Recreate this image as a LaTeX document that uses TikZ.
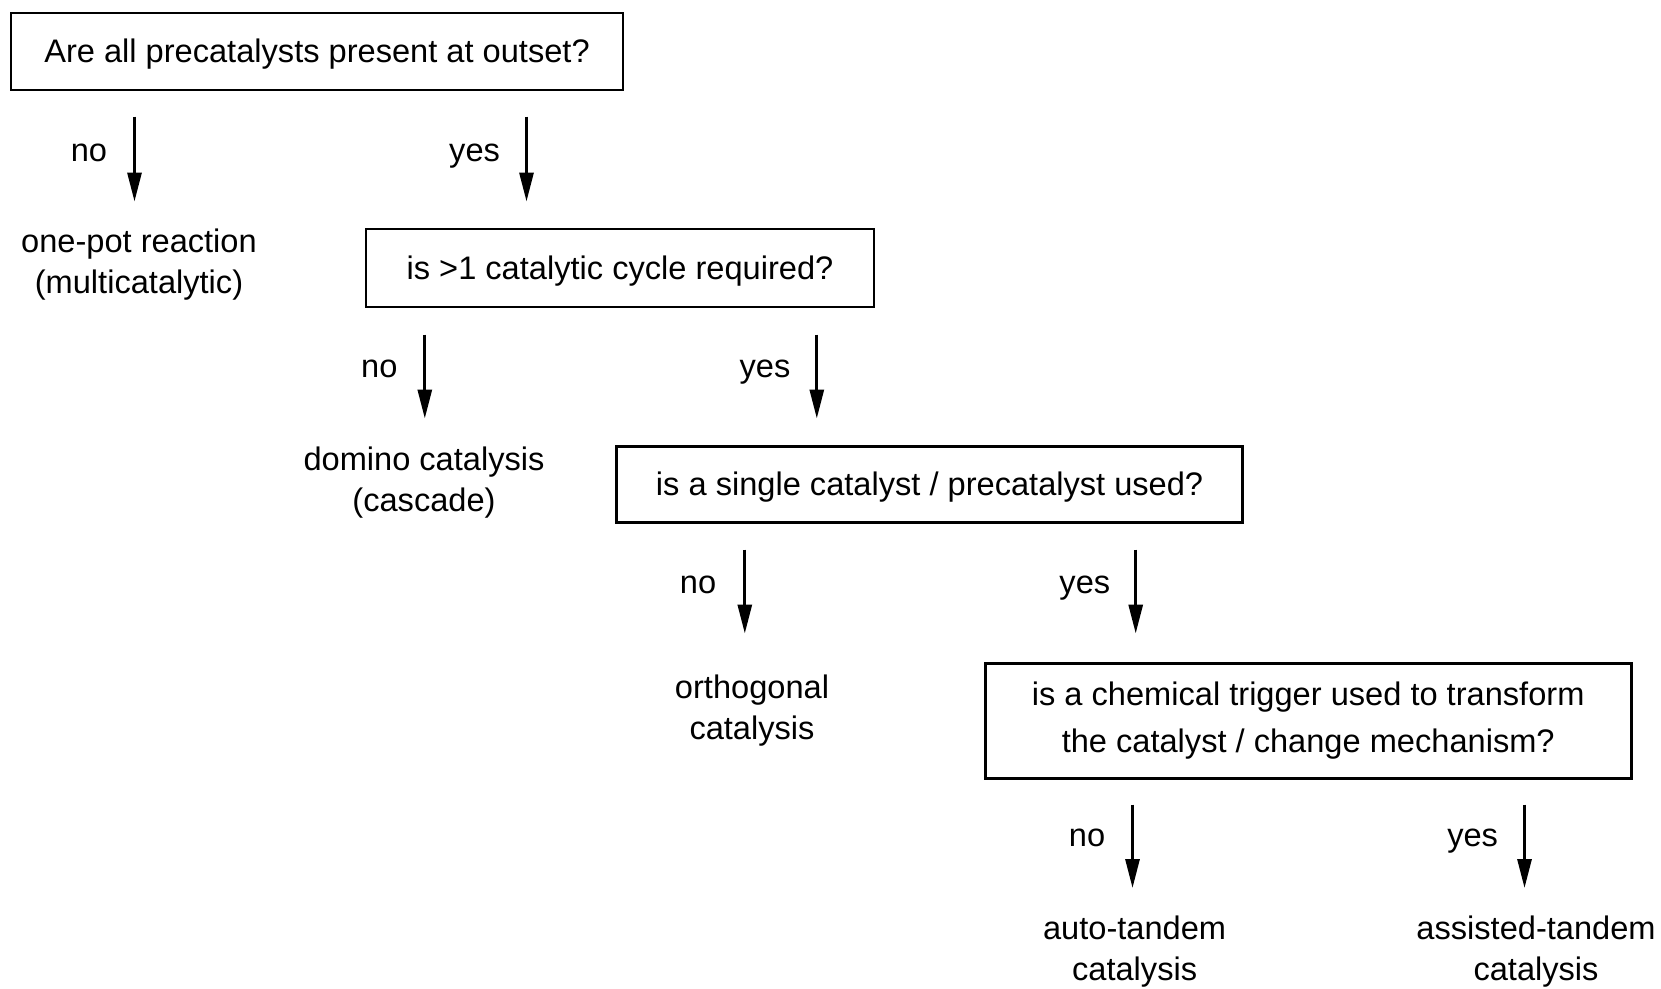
\documentclass[tikz,border=0pt]{standalone}
\usepackage{fontspec}
\setmainfont{Liberation Sans}
\usetikzlibrary{arrows.meta}
\begin{document}
\begin{tikzpicture}[x=1pt,y=-1pt,
  question/.style={draw,line width=2.8pt,inner sep=0pt,align=center,
    font=\fontsize{32.6}{47}\selectfont},
  oneline/.style={text height=27pt,text depth=5pt},
  outcome/.style={align=center,inner sep=0pt,anchor=base,
    font=\fontsize{32.6}{41}\selectfont},
  answer/.style={inner sep=0pt,anchor=base,font=\fontsize{32.6}{38}\selectfont},
  flow/.style={line width=3pt,-{Triangle[length=29pt,width=14pt]}}]
\useasboundingbox (0,0) rectangle (1661,988);

% decision boxes
\node[question,oneline,minimum width=612pt,minimum height=77pt] (q1) at (317,51.5)
  {Are all precatalysts present at outset?};
\node[question,oneline,minimum width=508pt,minimum height=78pt] (q2) at (620,268)
  {is >1 catalytic cycle required?};
\node[question,oneline,minimum width=626pt,minimum height=76pt] (q3) at (929.6,484.2)
  {is a single catalyst / precatalyst used?};
\node[question,minimum width=646pt,minimum height=115pt] (q4) at (1308.2,720.9)
  {is a chemical trigger used to transform\\the catalyst / change mechanism?};

% outcomes (anchored on the baseline of their last line)
\node[outcome] (o1) at (139,293) {one-pot reaction\\(multicatalytic)};
\node[outcome] (o2) at (424,511) {domino catalysis\\(cascade)};
\node[outcome] (o3) at (752,739) {orthogonal\\catalysis};
\node[outcome] (o4) at (1134.6,980) {auto-tandem\\catalysis};
\node[outcome] (o5) at (1536,980) {assisted-tandem\\catalysis};

% arrow end points
\coordinate (a1s) at (134.5,116.5); \coordinate (a1e) at (134.5,201.5);
\coordinate (b1s) at (526.5,116.5); \coordinate (b1e) at (526.5,201.5);
\coordinate (a2s) at (424.8,334.5); \coordinate (a2e) at (424.8,418.5);
\coordinate (b2s) at (816.8,334.5); \coordinate (b2e) at (816.8,418.5);
\coordinate (a3s) at (744.8,549.5); \coordinate (a3e) at (744.8,633.5);
\coordinate (b3s) at (1135.7,549.5); \coordinate (b3e) at (1135.7,633.5);
\coordinate (a4s) at (1132.5,804.5); \coordinate (a4e) at (1132.5,888);
\coordinate (b4s) at (1524.5,804.5); \coordinate (b4e) at (1524.5,888);

\draw[flow] (a1s) -- (a1e);
\draw[flow] (b1s) -- (b1e);
\draw[flow] (a2s) -- (a2e);
\draw[flow] (b2s) -- (b2e);
\draw[flow] (a3s) -- (a3e);
\draw[flow] (b3s) -- (b3e);
\draw[flow] (a4s) -- (a4e);
\draw[flow] (b4s) -- (b4e);

% answer labels
\node[answer] (n1) at (89,161) {no};
\node[answer] (y1) at (474.6,161) {yes};
\node[answer] (n2) at (379.3,377) {no};
\node[answer] (y2) at (765,377) {yes};
\node[answer] (n3) at (698,593) {no};
\node[answer] (y3) at (1084.8,593) {yes};
\node[answer] (n4) at (1087,846.5) {no};
\node[answer] (y4) at (1472.6,846.5) {yes};
\end{tikzpicture}
\end{document}
